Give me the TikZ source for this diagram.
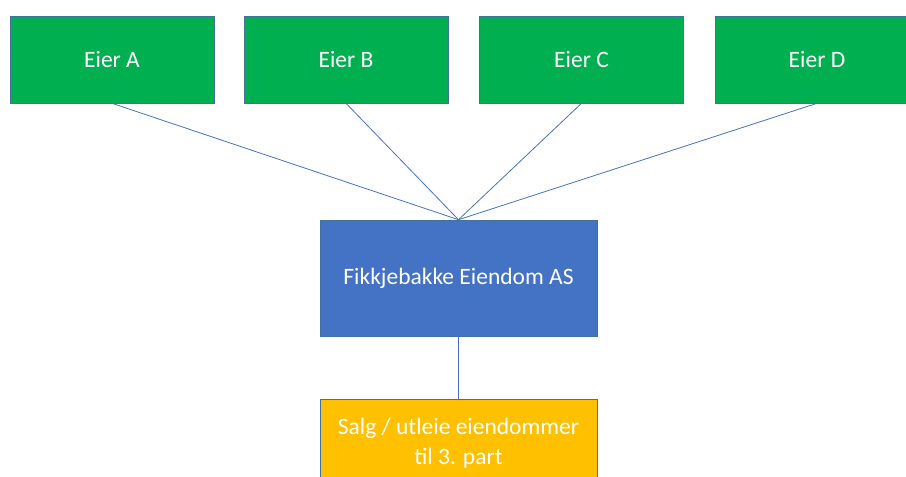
\documentclass[tikz,border=0pt]{standalone}
\usepackage{fontspec}
\setmainfont{Carlito}
\usepackage{xcolor}
\definecolor{eierGreen}{HTML}{00B050}
\definecolor{firmBlue}{HTML}{4472C4}
\definecolor{saleGold}{HTML}{FFC000}
\definecolor{edgeBlue}{HTML}{41719C}

\begin{document}
\begin{tikzpicture}[x=1pt, y=-1pt,
    owner/.style={fill=eierGreen, draw=edgeBlue, line width=0.6pt, text=white,
      minimum width=204pt, minimum height=87pt, inner sep=0pt,
      font=\fontsize{23.5}{28}\selectfont},
    firm/.style={owner, fill=firmBlue, minimum width=277pt, minimum height=116pt},
    sale/.style={firm, fill=saleGold, minimum height=88pt, align=center,
      font=\fontsize{23.5}{30}\selectfont},
    link/.style={firmBlue, line width=0.8pt}]
  \useasboundingbox (0,0) rectangle (906,477);
  \clip (0,0) rectangle (906,477);
  % ------- owners -------
  \node[owner] (eierA) at (112,59.5) {Eier A};
  \node[owner] (eierB) at (346,59.5) {Eier B};
  \node[owner] (eierC) at (581.5,59.5) {Eier C};
  \node[owner] (eierD) at (817,59.5) {Eier D};
  % ------- company -------
  \node[firm] (selskap) at (458.5,278) {Fikkjebakke Eiendom AS};
  % ------- business -------
  \node[sale] (salg) at (458.5,443) {Salg / utleie eiendommer\\til 3. part};
  % ------- links -------
  \foreach \e in {eierA,eierB,eierC,eierD}
    \draw[link] (\e.south) -- (selskap.north);
  \draw[link] (selskap.south) -- (salg.north);
\end{tikzpicture}
\end{document}
